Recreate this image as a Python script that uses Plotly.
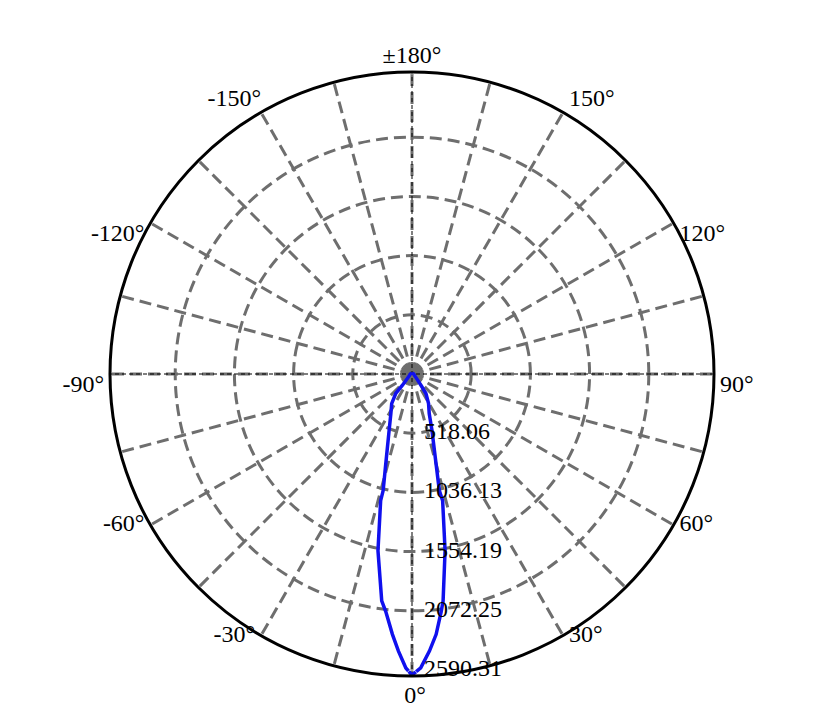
import plotly.graph_objects as go

# luminous intensity curve, path order: apex -> left side -> tip (0 deg) -> right side -> apex
theta_deg = [-180, -90, -60, -45, -40.3, -40, -34.5, -28.1, -22.1, -16.3, -13.9, -13.9,
             -10.9, -7.6, -6.3, -4.3, -2.8, -1.2, 0, 1.7, 3.6, 5.3, 7.0, 7.8, 10.6,
             13.6, 13.2, 15.0, 19.5, 23.5, 29.2, 35.5, 38.5, 45, 60, 90, 180]
intensity = [10, 15, 25, 60, 129, 220, 314, 393, 532, 818, 1051, 1142,
             1575, 2004, 2092, 2285, 2428, 2573, 2635, 2573, 2430, 2288, 2096, 2005, 1574,
             1140, 1048, 813, 523, 378, 297, 210, 126, 60, 25, 15, 10]

r_max = 2643
radial_ticks = [518.06, 1036.13, 1554.19, 2072.25, 2590.31]
radial_labels = ["518.06", "1036.13", "1554.19", "2072.25", "2590.31"]

grid_angles = list(range(0, 360, 15))
label_angles = [0, 30, 60, 90, 120, 150, 180, 210, 240, 270, 300, 330]
label_texts = ["0°", "30°", "60°", "90°", "120°", "150°",
               "±180°", "-150°", "-120°", "-90°", "-60°", "-30°"]
# padding spaces push the labels a little further off the frame
label_pad = [" ", " ", " ", " ", " ", " ", "", "", " ", " ", " ", " "]
label_pos = ["bottom center", "middle right", "middle right", "bottom right", "bottom right",
             "top right", "top center", "top left", "bottom left", "bottom left",
             "middle left", "middle left"]
# invisible marker sizes, used only to push the top/bottom labels outwards
label_gap = [12, 0, 0, 0, 0, 0, 4, 0, 0, 0, 0, 0]

serif = "Liberation Serif, Times New Roman, serif"
grid_gray = "#6e6e6e"

shown_labels = []
for a, t, p in zip(label_angles, label_texts, label_pad):
    if a > 180:
        shown_labels.append(t + p)
    else:
        shown_labels.append(p + t)

fig = go.Figure()

# dark spot where the dashed grid lines meet in the centre
fig.add_trace(go.Scatterpolar(r=[0], theta=[0], mode="markers",
                              marker=dict(color=grid_gray, size=22),
                              hoverinfo="skip", showlegend=False))

# thin black axis lines through the centre
for a in (0, 90):
    fig.add_trace(go.Scatterpolar(r=[r_max, 0, r_max], theta=[a, a, a + 180], mode="lines",
                                  line=dict(color="black", width=1, dash="4px,3px"),
                                  hoverinfo="skip", showlegend=False))

fig.add_trace(go.Scatterpolar(r=intensity, theta=theta_deg, mode="lines",
                              line=dict(color="#1010ee", width=3.5),
                              showlegend=False))

# radial tick labels along the 0 deg direction
fig.add_trace(go.Scatterpolar(r=radial_ticks, theta=[0] * len(radial_ticks), mode="text",
                              text=["  " + t for t in radial_labels], textposition="middle right",
                              textfont=dict(family=serif, size=24, color="black"),
                              cliponaxis=False, hoverinfo="skip", showlegend=False))

# angular tick labels just outside the frame
fig.add_trace(go.Scatterpolar(r=[r_max] * len(label_angles), theta=label_angles,
                              mode="markers+text",
                              marker=dict(size=label_gap, color="rgba(0,0,0,0)"),
                              text=shown_labels, textposition=label_pos,
                              textfont=dict(family=serif, size=24, color="black"),
                              cliponaxis=False, hoverinfo="skip", showlegend=False))

fig.update_layout(
    width=819, height=714,
    margin=dict(l=102, r=113, t=64, b=46),
    paper_bgcolor="white",
    font=dict(family=serif, size=24, color="black"),
    polar=dict(
        bgcolor="white",
        angularaxis=dict(
            rotation=270, direction="counterclockwise",
            tickmode="array", tickvals=grid_angles, showticklabels=False,
            showline=True, linecolor="black", linewidth=3,
            showgrid=True, gridcolor=grid_gray, gridwidth=3, griddash="12px,6px",
            ticks="",
        ),
        radialaxis=dict(
            range=[0, r_max], angle=270,
            tickmode="array", tickvals=radial_ticks[:-1], showticklabels=False,
            showline=False, ticks="",
            showgrid=True, gridcolor=grid_gray, gridwidth=3, griddash="12px,6px",
        ),
    ),
)

fig.write_html("out.html")
